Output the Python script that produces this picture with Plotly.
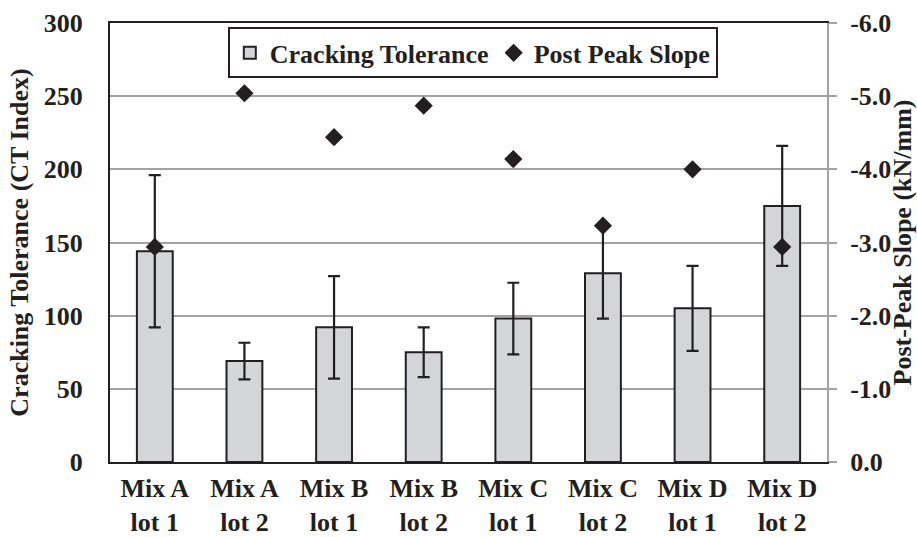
import plotly.graph_objects as go

# Mixes and lots tested
categories = ["Mix A<br>lot 1", "Mix A<br>lot 2", "Mix B<br>lot 1", "Mix B<br>lot 2",
              "Mix C<br>lot 1", "Mix C<br>lot 2", "Mix D<br>lot 1", "Mix D<br>lot 2"]

# Cracking tolerance (CT Index) mean and standard deviation
ct_index = [144, 69, 92, 75, 98, 129, 105, 175]
ct_std = [52, 12.5, 35, 17, 24.5, 31, 29, 41]

# Post-peak slope (kN/mm)
post_peak_slope = [-2.94, -5.04, -4.44, -4.87, -4.14, -3.23, -4.00, -2.94]

# Axis ticks
ct_ticks = [0, 50, 100, 150, 200, 250, 300]
slope_ticks = [0.0, -1.0, -2.0, -3.0, -4.0, -5.0, -6.0]
slope_ticktext = ["0.0", "-1.0", "-2.0", "-3.0", "-4.0", "-5.0", "-6.0"]

FONT = "Liberation Serif"
INK = "#231f20"
GRID = "#a3a3a3"


def bold(size):
    return dict(family=FONT, size=size, color=INK, weight="bold")


fig = go.Figure()

fig.add_trace(go.Bar(
    x=categories, y=ct_index, name="Cracking Tolerance",
    marker=dict(color="#d4d5d7", line=dict(color=INK, width=2)),
    width=0.4,
    error_y=dict(type="data", array=ct_std, visible=True,
                 color=INK, thickness=2.2, width=6),
))

fig.add_trace(go.Scatter(
    x=categories, y=post_peak_slope, name="Post Peak Slope", yaxis="y2",
    mode="markers",
    marker=dict(symbol="diamond", size=14, color=INK),
))

fig.update_layout(
    width=917, height=537,
    margin=dict(l=110, r=90, t=23, b=75),
    paper_bgcolor="white", plot_bgcolor="white",
    font=bold(26),
    bargap=0.6,
    showlegend=True,
    legend=dict(
        orientation="h", x=0.506, xanchor="center", y=0.99, yanchor="top",
        bgcolor="white", bordercolor=INK, borderwidth=2,
        font=bold(26),
        itemwidth=30, tracegroupgap=0,
    ),
    xaxis=dict(
        showline=True, linecolor=INK, linewidth=2, mirror=True,
        showgrid=False, ticks="", tickfont=bold(26),
        ticklabelstandoff=2, automargin=False,
    ),
    yaxis=dict(
        range=[0, 300], tickvals=ct_ticks,
        showline=True, linecolor=INK, linewidth=2,
        showgrid=True, gridcolor=GRID, gridwidth=2,
        zeroline=False, ticks="", tickfont=bold(26),
        ticklabelstandoff=20, automargin=False,
        title=dict(text="Cracking Tolerance (CT Index)",
                   font=bold(26), standoff=8),
    ),
    yaxis2=dict(
        overlaying="y", side="right",
        range=[0, -6], tickvals=slope_ticks, ticktext=slope_ticktext,
        showline=True, linecolor=GRID, linewidth=2,
        showgrid=False, zeroline=False,
        ticks="outside", ticklen=8, tickwidth=2, tickcolor=GRID,
        tickfont=bold(26), ticklabelstandoff=8, automargin=False,
        title=dict(text="Post-Peak Slope (kN/mm)",
                   font=bold(26), standoff=0),
    ),
)

fig.write_html("out.html")
